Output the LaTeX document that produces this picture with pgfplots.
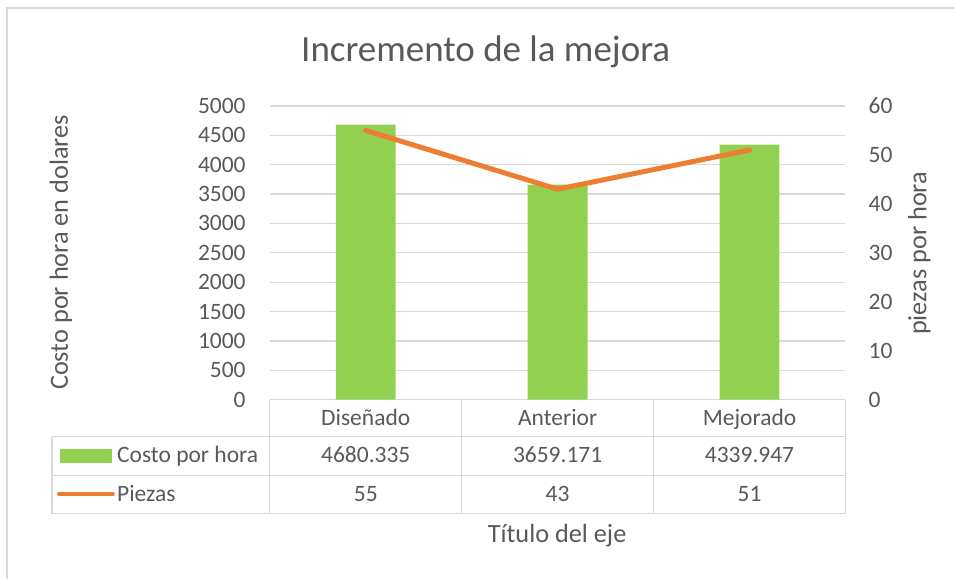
\documentclass[border=0pt]{standalone}
\usepackage{fontspec}
\setmainfont{Carlito}
\usepackage{pgfplots}
\pgfplotsset{compat=1.18}

\definecolor{barG}{HTML}{92D050}
\definecolor{lineO}{HTML}{ED7D31}
\definecolor{gridc}{HTML}{D9D9D9}
\definecolor{txt}{HTML}{595959}
\newcommand{\tk}{\fontsize{23.5}{28}\selectfont}
\newcommand{\lb}{\fontsize{26.3}{32}\selectfont}
\newcommand{\ttl}{\fontsize{37}{44}\selectfont}

\begin{document}
\begin{tikzpicture}
% page frame
\path (0pt,0pt) rectangle (955pt,-579pt);
\draw[gridc, line width=1.3pt] (7pt,-579pt) -- (7pt,-8pt) -- (955pt,-8pt);

\pgfplotsset{
  base/.style={
    at={(270pt,-400pt)}, anchor=south west,
    scale only axis, width=576pt, height=294pt,
    xmin=-0.5, xmax=2.5, xtick=\empty,
    axis line style={draw=none}, major tick length=0pt,
    /pgf/number format/assume math mode=true,
    /pgf/number format/1000 sep={},
    yticklabel style={font=\tk, text=txt, inner sep=0pt},
  }
}

% bars, left axis
\begin{axis}[base,
  ymin=0, ymax=5000, ytick={0,500,...,5000},
  ymajorgrids, grid style={gridc, line width=1.3pt},
  yticklabel style={xshift=-24pt},
]
\addplot[ybar, bar width=60pt, fill=barG, draw=none]
  coordinates {(0,4680.335) (1,3659.171) (2,4339.947)};
\end{axis}

% line, right axis
\begin{axis}[base,
  ymin=0, ymax=60, ytick={0,10,...,60},
  yticklabel pos=right,
  yticklabel style={anchor=west, xshift=23pt},
]
\addplot[lineO, line width=5pt, line cap=round, line join=round, mark=none]
  coordinates {(0,55) (1,43) (2,51)};
\end{axis}

% titles
\node[font=\ttl, text=txt, anchor=base] at (486pt,-62pt) {Incremento de la mejora};
\node[font=\lb, text=txt, rotate=90, anchor=center] at (61pt,-252.5pt) {Costo por hora en dolares};
\node[font=\lb, text=txt, rotate=90, anchor=center] at (920pt,-253.5pt) {piezas por hora};
\node[font=\lb, text=txt, anchor=base] at (557.5pt,-543pt) {Título del eje};

% data table
\begin{scope}[gridc, line width=1.3pt]
  \draw (270pt,-400pt) -- (270pt,-514pt);
  \draw (462pt,-400pt) -- (462pt,-514pt);
  \draw (654pt,-400pt) -- (654pt,-514pt);
  \draw (846pt,-400pt) -- (846pt,-514pt);
  \draw (52pt,-437pt) -- (52pt,-514pt);
  \draw (52pt,-437pt) -- (846pt,-437pt);
  \draw (52pt,-476pt) -- (846pt,-476pt);
  \draw (52pt,-514pt) -- (846pt,-514pt);
\end{scope}
\fill[barG] (60pt,-449pt) rectangle (112pt,-463pt);
\draw[lineO, line width=4pt, line cap=round] (59pt,-494pt) -- (113pt,-494pt);

\begin{scope}[every node/.style={font=\tk, text=txt, anchor=base, inner sep=0pt}]
  \node at (366pt,-426pt) {Diseñado};
  \node at (558pt,-426pt) {Anterior};
  \node at (750pt,-426pt) {Mejorado};
  \node at (366pt,-463pt) {4680.335};
  \node at (558pt,-463pt) {3659.171};
  \node at (750pt,-463pt) {4339.947};
  \node at (366pt,-502pt) {55};
  \node at (558pt,-502pt) {43};
  \node at (750pt,-502pt) {51};
  \node[anchor=base west] at (117pt,-463pt) {Costo por hora};
  \node[anchor=base west] at (117pt,-502pt) {Piezas};
\end{scope}
\end{tikzpicture}
\end{document}
